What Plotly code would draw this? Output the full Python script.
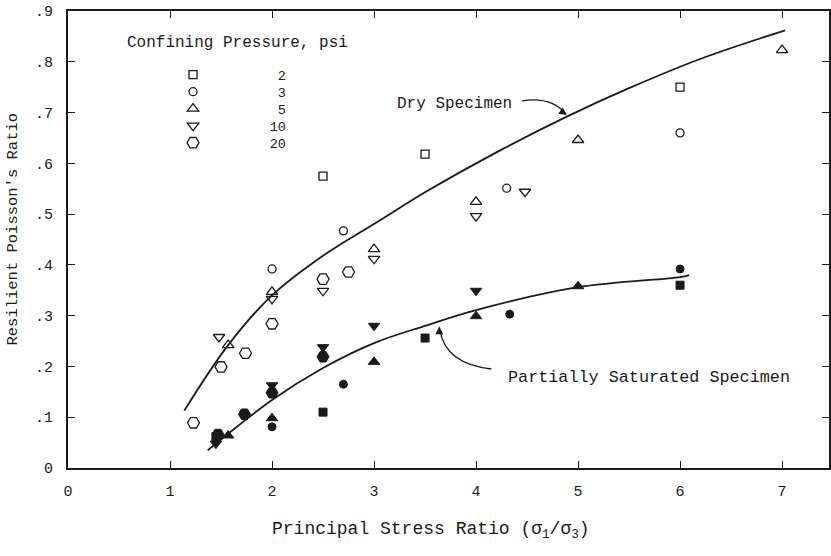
import plotly.graph_objects as go

# ---- data ----
# Dry specimen (open symbols), by confining pressure (psi)
dry_2_x = [2.5, 3.5, 6.0]
dry_2_y = [0.575, 0.618, 0.750]
dry_3_x = [2.0, 2.7, 4.3, 6.0]
dry_3_y = [0.392, 0.467, 0.551, 0.660]
dry_5_x = [1.57, 2.0, 3.0, 4.0, 5.0, 7.0]
dry_5_y = [0.242, 0.347, 0.431, 0.524, 0.646, 0.823]
dry_10_x = [1.48, 2.0, 2.5, 3.0, 4.0, 4.48]
dry_10_y = [0.258, 0.333, 0.349, 0.412, 0.496, 0.544]
dry_20_x = [1.23, 1.5, 1.74, 2.0, 2.5, 2.75]
dry_20_y = [0.089, 0.199, 0.226, 0.284, 0.372, 0.386]

# Partially saturated specimen (filled symbols)
sat_2_x = [1.45, 2.5, 3.5, 6.0]
sat_2_y = [0.062, 0.110, 0.256, 0.360]
sat_3_x = [1.45, 2.0, 2.7, 4.33, 6.0]
sat_3_y = [0.055, 0.081, 0.165, 0.303, 0.392]
sat_5_x = [1.57, 2.0, 3.0, 4.0, 5.0]
sat_5_y = [0.064, 0.098, 0.209, 0.299, 0.358]
sat_10_x = [1.45, 2.0, 2.5, 3.0, 4.0]
sat_10_y = [0.048, 0.163, 0.238, 0.280, 0.349]
sat_20_x = [1.47, 1.73, 2.0, 2.5]
sat_20_y = [0.066, 0.106, 0.148, 0.219]

# Hand-drawn trend curves
dry_curve_x = [1.14, 1.57, 2.0, 2.5, 3.06, 3.5, 4.26, 4.9, 5.5, 6.19, 7.03]
dry_curve_y = [0.113, 0.242, 0.340, 0.418, 0.488, 0.543, 0.628, 0.693, 0.748, 0.805, 0.862]
sat_curve_x = [1.37, 2.0, 2.5, 3.0, 3.5, 4.0, 5.0, 6.0, 6.09]
sat_curve_y = [0.035, 0.134, 0.197, 0.246, 0.280, 0.311, 0.356, 0.376, 0.380]

pressures = ["2", "3", "5", "10", "20"]
x_ticks = [0, 1, 2, 3, 4, 5, 6, 7]
x_tick_labels = ["0", "1", "2", "3", "4", "5", "6", "7"]
y_ticks = [0, 0.1, 0.2, 0.3, 0.4, 0.5, 0.6, 0.7, 0.8, 0.9]
y_tick_labels = ["0", ".1", ".2", ".3", ".4", ".5", ".6", ".7", ".8", ".9"]

FONT = "Liberation Mono, Courier New, DejaVu Sans Mono, monospace"
INK = "#1a1a1a"

symbols = ["square", "circle", "triangle-up", "triangle-down", "hexagon2"]
sizes = [8, 8, 10, 10, 12]
dry_sets = [(dry_2_x, dry_2_y), (dry_3_x, dry_3_y), (dry_5_x, dry_5_y),
            (dry_10_x, dry_10_y), (dry_20_x, dry_20_y)]
sat_sets = [(sat_2_x, sat_2_y), (sat_3_x, sat_3_y), (sat_5_x, sat_5_y),
            (sat_10_x, sat_10_y), (sat_20_x, sat_20_y)]

# legend layout (one small legend per row so rows can sit 17 px apart)
PLOT_TOP_PX, PLOT_H_PX = 11, 457
LEG_FIRST_ROW_PX, LEG_ROW_GAP_PX, LEG_TOP_OFFSET_PX = 74, 17, 14.6
LEG_X = 0.138

fig = go.Figure()

fig.add_trace(go.Scatter(x=dry_curve_x, y=dry_curve_y, mode="lines",
                         line=dict(color=INK, width=1.8, shape="spline", smoothing=1.0),
                         showlegend=False, hoverinfo="skip"))
fig.add_trace(go.Scatter(x=sat_curve_x, y=sat_curve_y, mode="lines",
                         line=dict(color=INK, width=1.8, shape="spline", smoothing=1.0),
                         showlegend=False, hoverinfo="skip"))

for p, sym, sz, (sx, sy) in zip(pressures, symbols, sizes, sat_sets):
    fig.add_trace(go.Scatter(x=sx, y=sy, mode="markers",
                             marker=dict(symbol=sym, size=sz, color=INK,
                                         line=dict(color=INK, width=1)),
                             showlegend=False))

legend_layouts = {}
for i, (p, sym, sz, (dx, dy)) in enumerate(zip(pressures, symbols, sizes, dry_sets)):
    leg_id = "legend" if i == 0 else f"legend{i + 1}"
    top_px = LEG_FIRST_ROW_PX + i * LEG_ROW_GAP_PX - LEG_TOP_OFFSET_PX
    legend_layouts[leg_id] = dict(
        x=LEG_X, y=1 - (top_px - PLOT_TOP_PX) / PLOT_H_PX,
        xanchor="left", yanchor="top", bgcolor="rgba(0,0,0,0)",
        font=dict(family=FONT, size=13.5, color=INK), itemsizing="trace")
    name = "\u00a0" * (9 - len(p)) + p
    fig.add_trace(go.Scatter(x=dx, y=dy, mode="markers", name=name, legend=leg_id,
                             marker=dict(symbol=sym + "-open", size=sz, color=INK,
                                         line=dict(color=INK, width=1.3)),
                             showlegend=True))

# curved pointer arrows
fig.add_shape(type="path", xref="x", yref="y",
              path="M 4.45,0.723 Q 4.74,0.732 4.88,0.697",
              line=dict(color=INK, width=1.3))
fig.add_shape(type="path", xref="x", yref="y",
              path="M 4.15,0.195 Q 3.70,0.205 3.645,0.272",
              line=dict(color=INK, width=1.3))

annotations = [
    dict(x=4.89, y=0.695, ax=-7, ay=-5, xref="x", yref="y", text="",
         showarrow=True, arrowhead=2, arrowsize=1.2, arrowwidth=1.3, arrowcolor=INK),
    dict(x=3.64, y=0.279, ax=0, ay=9, xref="x", yref="y", text="",
         showarrow=True, arrowhead=2, arrowsize=1.2, arrowwidth=1.3, arrowcolor=INK),
    dict(x=4.37, y=0.717, xref="x", yref="y", text="Dry Specimen", showarrow=False,
         xanchor="right", yanchor="middle", font=dict(family=FONT, size=16, color=INK)),
    dict(x=4.29, y=0.179, xref="x", yref="y", text="Partially Saturated Specimen",
         showarrow=False, xanchor="left", yanchor="middle",
         font=dict(family=FONT, size=16.8, color=INK)),
    dict(x=0, y=1, xref="paper", yref="paper", xshift=57, yshift=-32,
         text="Confining Pressure, psi", showarrow=False, xanchor="left",
         yanchor="middle", font=dict(family=FONT, size=16, color=INK)),
    dict(x=0, y=0.5, xref="paper", yref="paper", xshift=-56, yshift=10,
         text="Resilient Poisson's Ratio", textangle=-90, showarrow=False,
         xanchor="center", yanchor="middle", font=dict(family=FONT, size=15.5, color=INK)),
    dict(x=0.477, y=0, xref="paper", yref="paper", yshift=-62,
         text="Principal Stress Ratio (σ<sub>1</sub>/σ<sub>3</sub>)", showarrow=False,
         xanchor="center", yanchor="middle", font=dict(family=FONT, size=18, color=INK)),
]

fig.update_layout(
    width=831, height=556,
    margin=dict(l=68, r=0, t=11, b=88),
    paper_bgcolor="white", plot_bgcolor="white",
    font=dict(family=FONT, color=INK),
    annotations=annotations,
    showlegend=True,
    **legend_layouts,
)
fig.update_xaxes(range=[0, 7.46], tickvals=x_ticks, ticktext=x_tick_labels,
                 showgrid=False, zeroline=False, showline=True, linecolor=INK,
                 linewidth=2, mirror="ticks", ticks="inside", ticklen=7,
                 tickcolor=INK, tickfont=dict(family=FONT, size=15, color=INK),
                 ticklabelstandoff=8)
fig.update_yaxes(range=[0, 0.9], tickvals=y_ticks, ticktext=y_tick_labels,
                 showgrid=False, zeroline=False, showline=True, linecolor=INK,
                 linewidth=2, mirror="ticks", ticks="inside", ticklen=7,
                 tickcolor=INK, tickfont=dict(family=FONT, size=15, color=INK),
                 ticklabelstandoff=10)

fig.write_html("out.html")
